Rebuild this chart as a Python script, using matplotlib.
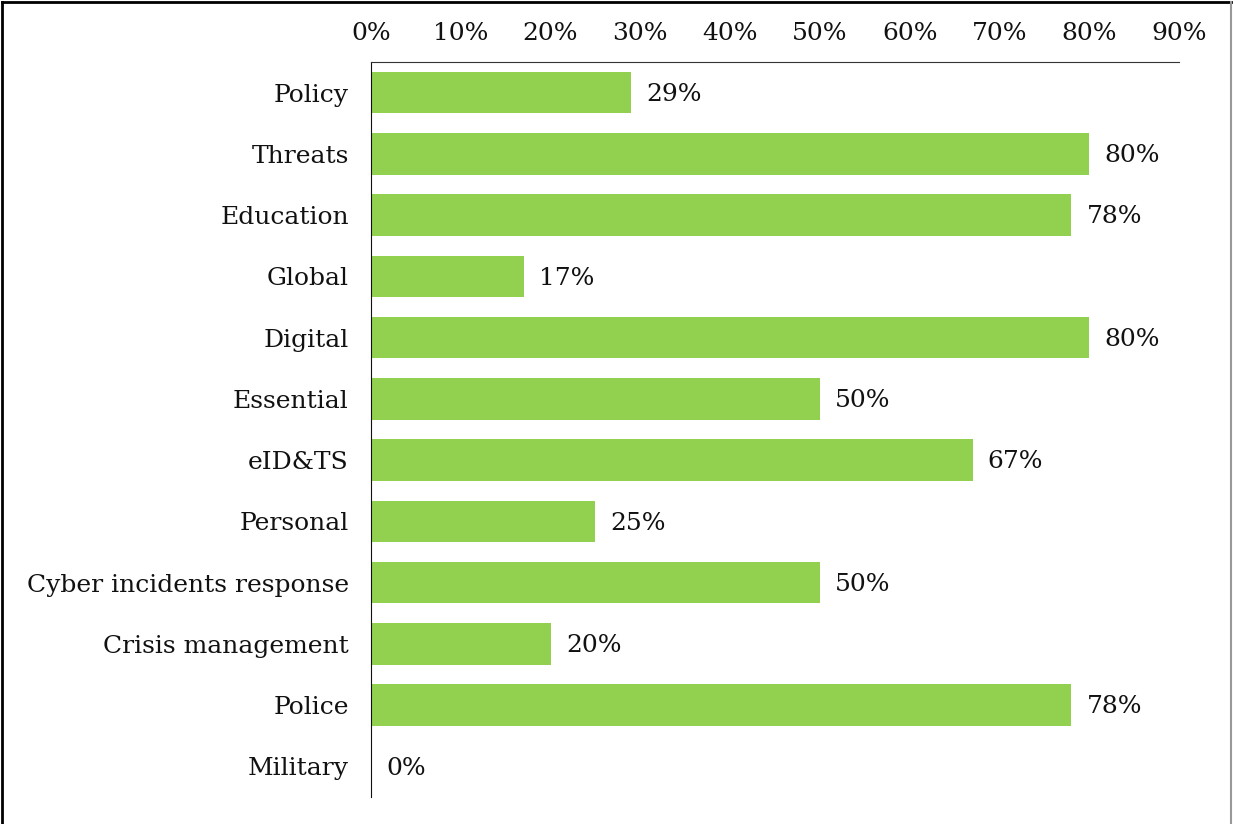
import matplotlib.pyplot as plt
from matplotlib.lines import Line2D

categories = ['Policy', 'Threats', 'Education', 'Global', 'Digital', 'Essential',
              'eID&TS', 'Personal', 'Cyber incidents response', 'Crisis management',
              'Police', 'Military']
values = [29, 80, 78, 17, 80, 50, 67, 25, 50, 20, 78, 0]
ticks = [0, 10, 20, 30, 40, 50, 60, 70, 80, 90]

plt.rcParams['font.family'] = 'DejaVu Serif'
fs = 18

fig = plt.figure(figsize=(12.33, 8.24), dpi=100)
ax = fig.add_axes([371/1233, 1 - 797/824, (1179 - 371)/1233, (797 - 62)/824])

y = list(range(len(categories)))
ax.barh(y, values, height=0.68, color='#92D050')
for yi, v in zip(y, values):
    ax.text(v + 1.7, yi + 0.03, '%d%%' % v, va='center', ha='left', fontsize=fs, color='#111111')

ax.set_xlim(0, 90)
ax.set_ylim(len(categories) - 0.5, -0.5)
ax.set_yticks(y)
ax.set_yticklabels(categories, fontsize=fs, color='#111111')
ax.set_xticks(ticks)
ax.set_xticklabels(['%d%%' % t for t in ticks], fontsize=fs, color='#111111')
ax.xaxis.tick_top()
ax.tick_params(axis='both', length=0)
ax.tick_params(axis='y', pad=16)
ax.tick_params(axis='x', pad=12)
for s in ['right', 'bottom']:
    ax.spines[s].set_visible(False)
ax.spines['top'].set_color('#333333')
ax.spines['left'].set_color('#111111')

# figure frame
fig.add_artist(Line2D([2/1233, 2/1233], [0, 1 - 2/824], color='black', lw=2, transform=fig.transFigure))
fig.add_artist(Line2D([2/1233, 1231/1233], [1 - 2/824, 1 - 2/824], color='black', lw=2, transform=fig.transFigure))
fig.add_artist(Line2D([1231/1233, 1231/1233], [0, 1 - 2/824], color='#999999', lw=1.5, transform=fig.transFigure))

fig.savefig('out.png', dpi=100)
